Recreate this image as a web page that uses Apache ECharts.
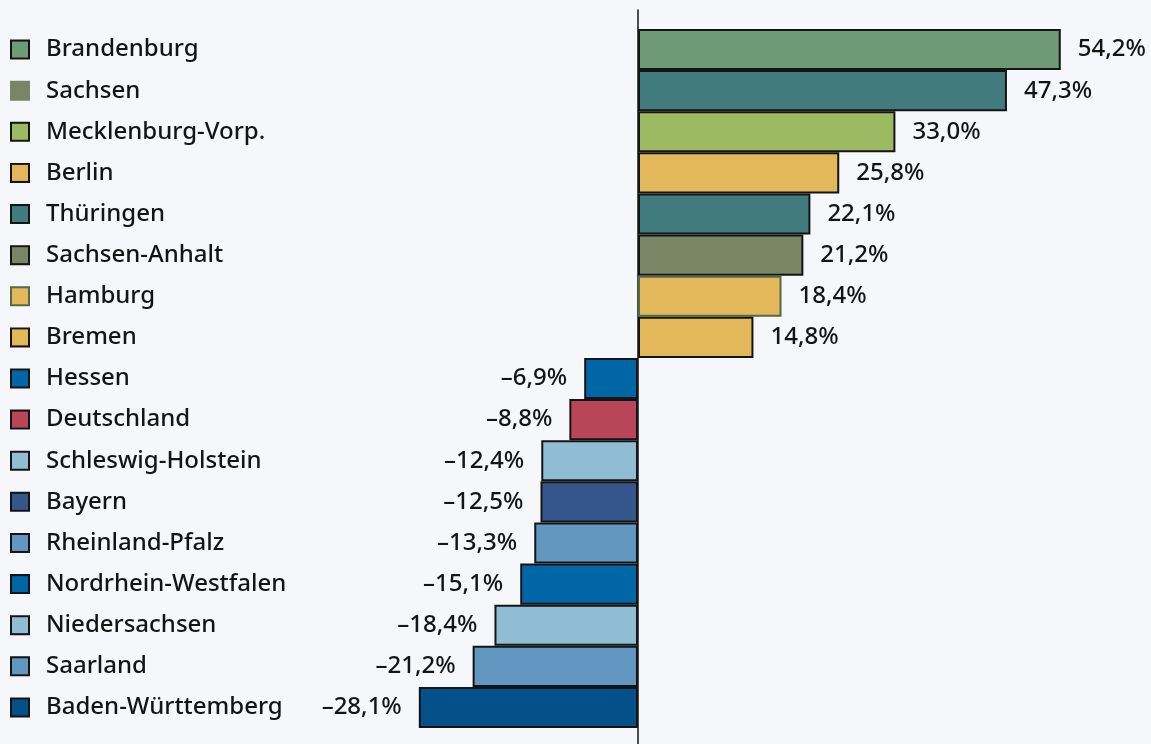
<!DOCTYPE html>
<html>
<head>
<meta charset="utf-8">
<script src="https://cdn.jsdelivr.net/npm/echarts@6/dist/echarts.min.js"></script>
<style>
  html, body { margin: 0; padding: 0; background: #f5f7fb; }
  #chart { width: 1151px; height: 744px; }
</style>
</head>
<body>
<div id="chart"></div>
<script>
// Veränderung je Bundesland
const states = ['Brandenburg', 'Sachsen', 'Mecklenburg-Vorp.', 'Berlin', 'Thüringen', 'Sachsen-Anhalt',
  'Hamburg', 'Bremen', 'Hessen', 'Deutschland', 'Schleswig-Holstein', 'Bayern', 'Rheinland-Pfalz',
  'Nordrhein-Westfalen', 'Niedersachsen', 'Saarland', 'Baden-Württemberg']
const changes = [54.2, 47.3, 33.0, 25.8, 22.1, 21.2, 18.4, 14.8, -6.9, -8.8, -12.4, -12.5, -13.3, -15.1, -18.4, -21.2, -28.1]
const barColors = ['#6e9b75', '#417b7d', '#9cba62', '#e3b85a', '#417b7d', '#7a8566', '#e3b85a', '#e3b85a',
  '#0066a6', '#b84658', '#90bcd4', '#35568a', '#6297c2', '#0066a6', '#90bcd4', '#6297c2', '#04518a']
const swatchColors = ['#6e9b75', '#7a8566', '#9cba62', '#e3b85a', '#417b7d', '#7a8566', '#e3b85a', '#e3b85a',
  '#0066a6', '#b84658', '#90bcd4', '#35568a', '#6297c2', '#0066a6', '#90bcd4', '#6297c2', '#04518a']

const FONT = 'Noto Sans'
const ink = '#141414'

const borderFor = (i) => (states[i] === 'Hamburg' ? '#4f6b47' : ink)

// Legendenkästchen als Rich-Text der Achsenbeschriftung
const rich = { t: { fontFamily: FONT, fontSize: 24, fontWeight: 500, color: ink, padding: [0, 0, 0, 18] } }
swatchColors.forEach((c, i) => {
  rich['s' + i] = {
    width: 16, height: 16,
    backgroundColor: c,
    borderColor: states[i] === 'Sachsen' ? c : borderFor(i),
    borderWidth: 2
  }
})

const fmt = (v) => (v < 0 ? '\u2013' : '') + Math.abs(v).toFixed(1).replace('.', ',') + '%'

const myChart = echarts.init(document.getElementById('chart'))
myChart.setOption({
  backgroundColor: '#f5f7fb',
  animation: false,
  grid: [
    { left: 326, right: 6, top: 29, bottom: 16 },
    { left: 326, right: 6, top: 10, bottom: 0 }
  ],
  xAxis: [
    { type: 'value', min: -40, max: 65, show: false, gridIndex: 0 },
    { type: 'value', min: -40, max: 65, show: false, gridIndex: 1 }
  ],
  yAxis: [
    {
      type: 'category',
      gridIndex: 0,
      inverse: true,
      data: states,
      axisLine: { show: false, onZero: false },
      axisTick: { show: false },
      splitLine: { show: false },
      axisLabel: {
        margin: 314,
        align: 'left',
        formatter: (v, i) => '{s' + i + '| }{t|' + v + '}',
        rich: rich
      }
    },
    {
      type: 'category',
      gridIndex: 1,
      data: [''],
      axisLine: { show: true, onZero: true, lineStyle: { color: ink, width: 1.5 } },
      axisTick: { show: false },
      axisLabel: { show: false }
    }
  ],
  series: [
    {
      type: 'bar',
      xAxisIndex: 0,
      yAxisIndex: 0,
      barCategoryGap: 0,
      data: changes.map((v, i) => ({
        value: v,
        itemStyle: { color: barColors[i], borderColor: borderFor(i), borderWidth: 2 },
        label: { position: v < 0 ? 'left' : 'right' }
      })),
      label: {
        show: true,
        distance: 17,
        fontFamily: FONT,
        fontSize: 24,
        fontWeight: 500,
        color: ink,
        formatter: (p) => fmt(p.value)
      }
    }
  ]
})
</script>
</body>
</html>
